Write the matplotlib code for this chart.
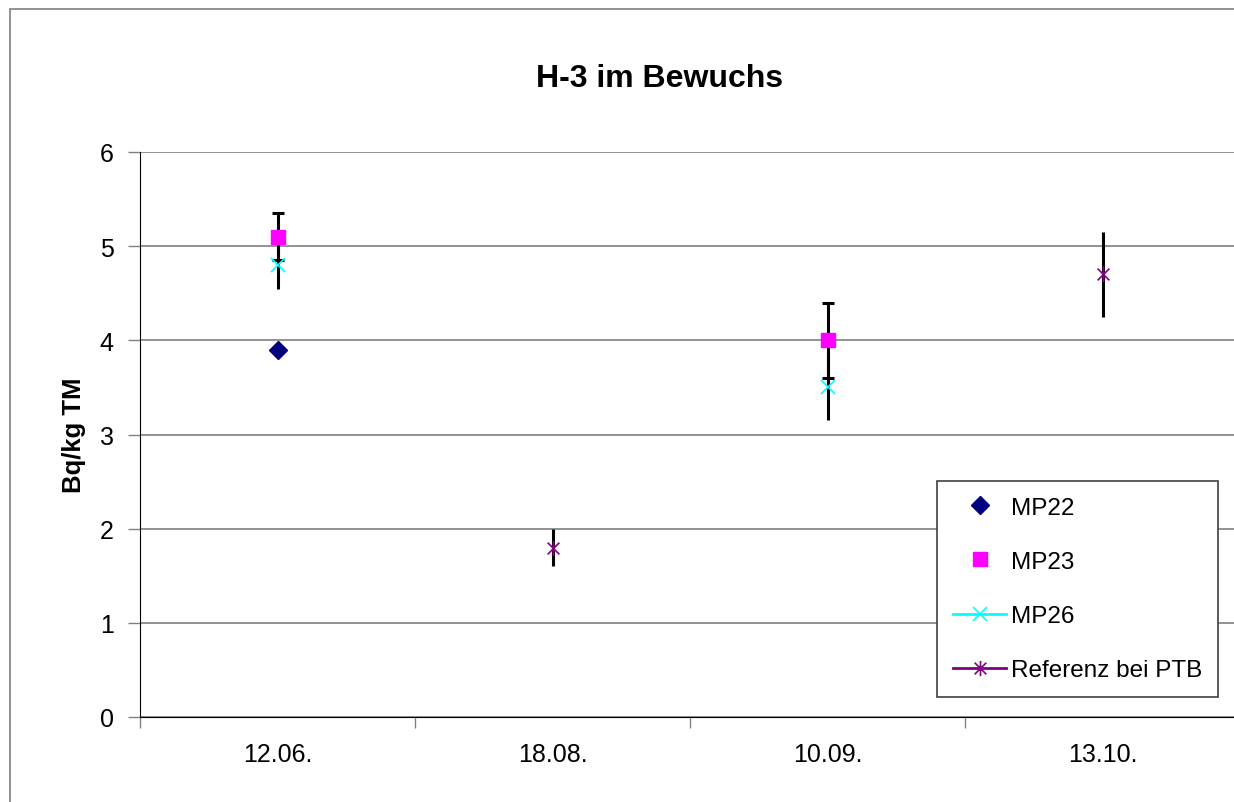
import numpy as np
import matplotlib
matplotlib.use("Agg")
import matplotlib.pyplot as plt
from matplotlib.path import Path
from matplotlib.patches import Rectangle

# Data
dates = ["12.06.", "18.08.", "10.09.", "13.10."]
nan = np.nan
mp22 = [3.9, nan, nan, nan]
mp23 = [5.1, nan, 4.0, nan]
mp23_err = [0.25, nan, 0.4, nan]
mp26 = [4.8, nan, 3.5, nan]
mp26_err = [0.25, nan, 0.35, nan]
ref = [nan, 1.8, nan, 4.7]
ref_err = [nan, 0.2, nan, 0.45]

plt.rcParams["font.family"] = ["Liberation Sans", "DejaVu Sans"]

W, H = 1234, 803
fig = plt.figure(figsize=(W / 100, H / 100), dpi=100)

# outer chart border (runs off the right/bottom edge like the original)
fig.patches.append(Rectangle((10 / W, -0.1), 1.2, 1 - 10 / H + 0.1, transform=fig.transFigure,
                             fill=False, edgecolor="#808080", linewidth=1.2))

ax = fig.add_axes([140 / W, (H - 718) / H, 1100 / W, 565 / H])
x = np.arange(len(dates)) + 0.5

# asterisk marker: X plus vertical bar
star = Path([(-1, -1), (1, 1), (-1, 1), (1, -1), (0, -1.3), (0, 1.3)],
            [Path.MOVETO, Path.LINETO, Path.MOVETO, Path.LINETO, Path.MOVETO, Path.LINETO])

ax.errorbar(x, mp23, yerr=mp23_err, fmt="none", ecolor="black", elinewidth=2.2, capsize=4.5, capthick=2.2, zorder=3)
ax.errorbar(x, mp26, yerr=mp26_err, fmt="none", ecolor="black", elinewidth=2.2, capsize=0, zorder=3)
ax.errorbar(x, ref, yerr=ref_err, fmt="none", ecolor="black", elinewidth=2.2, capsize=0, zorder=3)

ax.plot(x, mp22, linestyle="none", marker="D", color="#000080", markersize=9, label="MP22", zorder=5)
ax.plot(x, mp23, linestyle="none", marker="s", color="#FF00FF", markersize=10.5, label="MP23", zorder=5)
ax.plot(x, mp26, linestyle="-", marker="x", color="#00FFFF", markersize=10, markeredgewidth=1.2,
        linewidth=2, label="MP26", zorder=5)
ax.plot(x, ref, linestyle="-", marker=star, color="#800080", markersize=11, markeredgewidth=1.2,
        linewidth=2, label="Referenz bei PTB", zorder=5)

ax.set_xlim(0, 4)
ax.set_ylim(0, 6)
ax.set_yticks(range(0, 7))
ax.set_xticks(range(0, 5))
ax.set_xticklabels([])
ax.set_xticks(x, minor=True)
ax.set_xticklabels(dates, minor=True)
ax.tick_params(axis="x", which="minor", length=0, pad=18, labelsize=18)
ax.tick_params(axis="x", which="major", length=8, color="#808080", width=1)
ax.tick_params(axis="y", length=9, width=1, color="#808080", pad=10, labelsize=18)

ax.grid(axis="y", color="#808080", linewidth=1.2)
ax.set_axisbelow(True)
for side in ["top", "right"]:
    ax.spines[side].set_visible(False)
ax.spines["left"].set_color("black")
ax.spines["bottom"].set_color("black")

ax.set_ylabel("Bq/kg TM", fontsize=18.5, fontweight="bold", labelpad=10)
fig.text(660 / W, 1 - 79 / H, "H-3 im Bewuchs", ha="center", va="center", fontsize=23, fontweight="bold")

leg = fig.legend(loc="upper left", bbox_to_anchor=(937 / W, 1 - 482 / H), fontsize=17.5,
                 frameon=True, fancybox=False, edgecolor="#404040", framealpha=1,
                 labelspacing=1.32, handlelength=2.2, handletextpad=0.2, borderpad=0.65,
                 borderaxespad=0)
leg.get_frame().set_linewidth(1.2)

fig.savefig("out.png", dpi=100)
